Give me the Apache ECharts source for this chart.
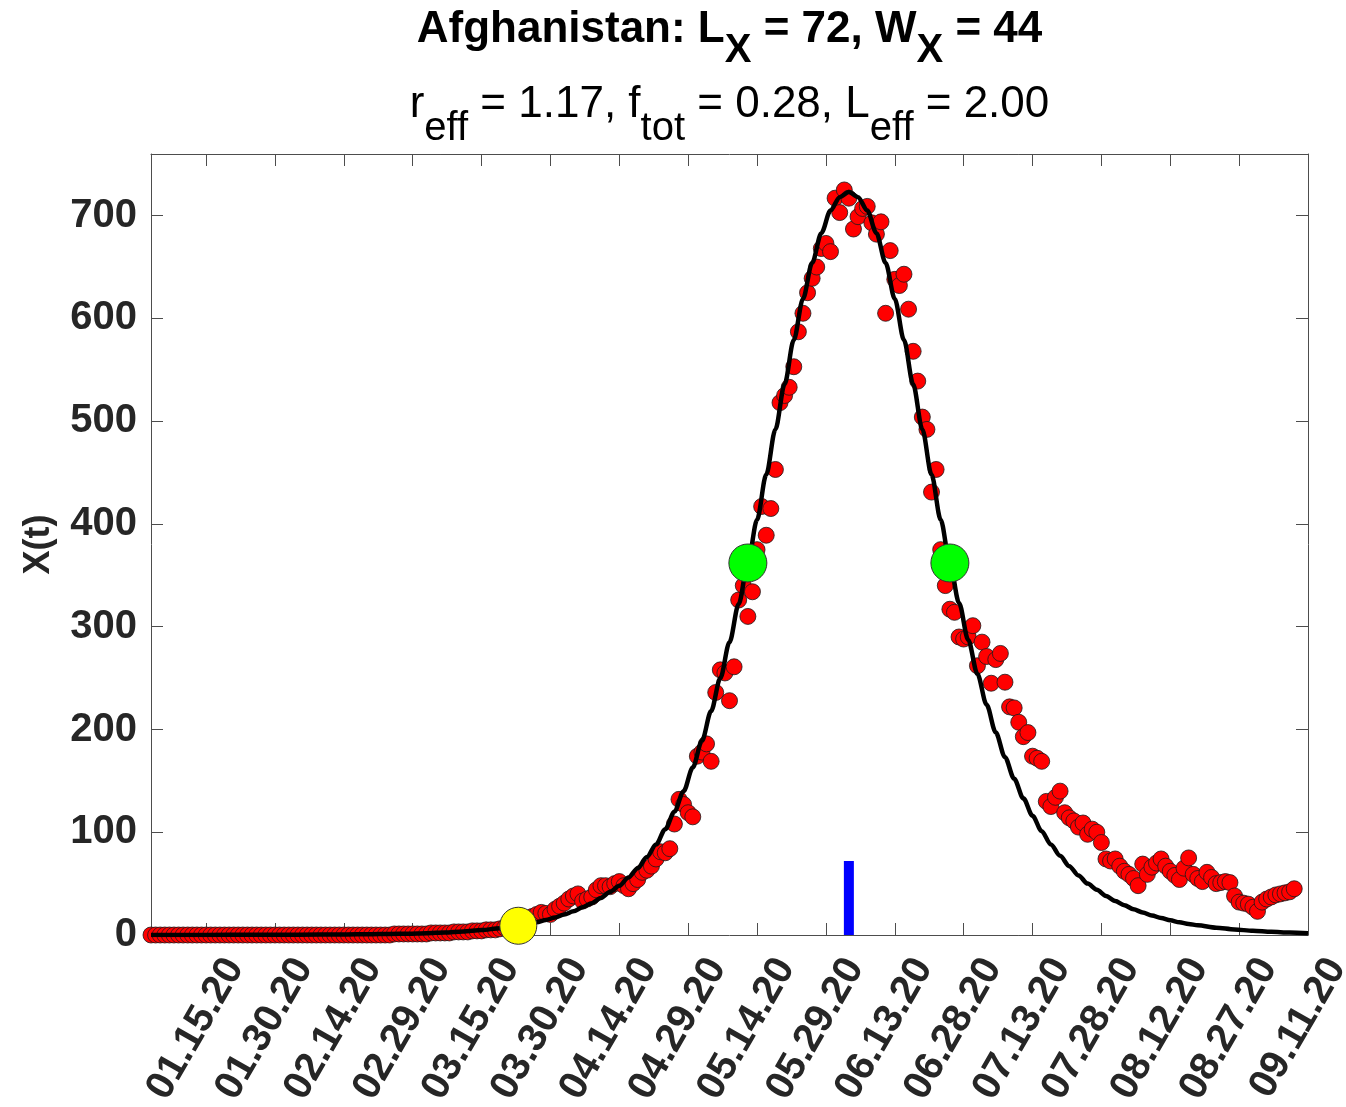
<!DOCTYPE html>
<html>
<head>
<meta charset="utf-8">
<script src="https://cdn.jsdelivr.net/npm/echarts@6/dist/echarts.min.js"></script>
<style>
html,body{margin:0;padding:0;background:#fff;}
#chart{width:1346px;height:1107px;}
</style>
</head>
<body>
<div id="chart"></div>
<script>
// ---------------- data ----------------
const countryName = 'Afghanistan';
const Lx = 72, Wx = 44;
const rEff = '1.17', fTot = '0.28', lEff = '2.00';

// first observation date and last axis date (MM.DD.YY)
const firstDate = '01.03.20';
const lastAxisDate = '09.11.20';

// observed X(t), one value per day starting at firstDate
const observedValues = [
  0,0,0,0,0,0,0,0,0,0, 0,0,0,0,0,0,0,0,0,0,
  0,0,0,0,0,0,0,0,0,0, 0,0,0,0,0,0,0,0,0,0,
  0,0,0,0,0,0,0,0,0,0, 0,0,0,
  1,1,1,1,1,1,1,1,2,2, 2,2,2,3,3,3,3,4,4,4,
  5,5,5,6,7,8,10,11,13,15, 18,
  20,22,21,20,25,28,31,35,38,40,
  33,35,37,44,48,48,47,50,52,48,
  45,50,54,61,63,67,74,81,80,84,
  108,132,127,119,115,174,178,186,169,236,
  258,255,228,261,326,340,310,334,375,417,
  389,415,453,518,525,533,553,587,605,625,
  639,650,668,673,665,717,703,725,717,687,
  699,707,709,693,682,694,605,666,638,632,
  643,609,568,539,504,492,431,453,375,340,
  317,314,290,288,290,301,262,285,271,245,
  268,274,246,222,221,207,193,197,174,172,
  169,130,125,134,140,119,114,111,105,109,
  98,103,100,90,74,72,74,67,62,59,
  55,48,69,59,66,70,74,67,62,58,
  54,65,75,59,55,52,61,56,50,51,
  52,51,38,32,31,30,27,23,32,35,
  37,39,40,41,42,45
];

// fitted curve (day of year 2020, value)
const fitDays = [2,14,24,34,44,50,54,58,62,66,70,74,78,80,82,84,86,88,90,92,94,96,98,100,
  102,104,106,108,110,112,114,116,118,120,122,124,126,128,130,132,134,136,138,140,142,144,146,148,150,
  152,154,156,158,160,162,164,166,168,170,172,174,176,178,180,182,184,186,188,190,192,194,196,198,200,
  202,204,206,208,210,212,214,216,218,220,222,224,226,228,230,234,238,242,246,250,254];
const fitValues = [0.05,0.1,0.2,0.3,0.5,0.8,1.0,1.3,1.8,2.5,3.5,4.8,6.6,7.7,9.0,10.6,12.4,14.6,17,20,23,27,31,36,
  42,48,56,65,76,88,103,120,140,163,189,218,250,285,322,362,404,448,492,536,579,619,654,683,705,
  718,723,718,705,683,654,619,579,536,492,448,404,362,323,287,254,224,197,173,152,133,116,101,88,77,
  67,58,50,44,38,33,29,25,22,19,16.5,14.3,12.4,10.8,9.4,7.1,5.4,4.1,3.1,2.4,1.8];

// half-maximum points (green), onset point (yellow), peak marker (blue)
const halfMaxDays = [132, 176];
const halfMaxValues = [362, 362];
const onsetDays = [82];
const onsetValues = [9];
const peakBarDay = 154;
const peakBarValues = [0, Lx];

// tick labels
const xTickLabels = ['01.15.20','01.30.20','02.14.20','02.29.20','03.15.20','03.30.20','04.14.20',
  '04.29.20','05.14.20','05.29.20','06.13.20','06.28.20','07.13.20','07.28.20','08.12.20','08.27.20','09.11.20'];
const yTickValues = [0,100,200,300,400,500,600,700];
const yMax = 760;

// ---------------- helpers ----------------
function dayOf(s){
  const p = s.split('.').map(Number);
  return Math.round((Date.UTC(2000+p[2], p[0]-1, p[1]) - Date.UTC(2020,0,1)) / 86400000);
}
const xMin = dayOf(firstDate);
const xMax = dayOf(lastAxisDate);
const xTickDays = xTickLabels.map(dayOf);
const labelByDay = {};
xTickDays.forEach((d,i)=>{ labelByDay[d] = xTickLabels[i]; });

const FONT = '"Liberation Sans", Arial, Helvetica, sans-serif';
const TXT = '#262626';
const AXC = '#4d4d4d';

const observedData = observedValues.map((v,i)=>[xMin+i, v]);
const fitData = fitDays.map((d,i)=>[d, fitValues[i]]);
const halfData = halfMaxDays.map((d,i)=>[d, halfMaxValues[i]]);
const onsetData = onsetDays.map((d,i)=>[d, onsetValues[i]]);
const barData = peakBarValues.map(v=>[peakBarDay, v]);

function mirrorX(pos, showLabel){
  return {
    type:'value', position:pos, min:xMin, max:xMax,
    axisLine:{show:true, onZero:false, lineStyle:{color:AXC, width:1}},
    axisTick:{show:true, inside:true, length:12, customValues:xTickDays, lineStyle:{color:AXC, width:1}},
    axisLabel: showLabel ? {
      show:true, customValues:xTickDays, rotate:60, margin:10,
      verticalAlign:'top', padding:[13,0,0,0],
      formatter:(v)=>labelByDay[Math.round(v)] || '',
      fontSize:40, fontWeight:'bold', fontFamily:FONT, color:TXT
    } : {show:false},
    splitLine:{show:false}
  };
}
function mirrorY(pos, showLabel){
  const ax = {
    type:'value', position:pos, min:0, max:yMax,
    axisLine:{show:true, onZero:false, lineStyle:{color:AXC, width:1}},
    axisTick:{show:true, inside:true, length:12, customValues:yTickValues, lineStyle:{color:AXC, width:1}},
    axisLabel: showLabel ? {
      show:true, customValues:yTickValues, margin:14,
      fontSize:40, fontWeight:'bold', fontFamily:FONT, color:TXT
    } : {show:false},
    splitLine:{show:false}
  };
  if (showLabel){
    ax.name = 'X(t)';
    ax.nameLocation = 'middle';
    ax.nameGap = 94;
    ax.nameTextStyle = {fontSize:36, fontWeight:'bold', fontFamily:FONT, color:TXT};
  }
  return ax;
}

const chart = echarts.init(document.getElementById('chart'), null, {renderer:'canvas'});
chart.setOption({
  animation:false,
  backgroundColor:'#ffffff',
  grid:{left:151, right:38, top:154, bottom:172, containLabel:false, outerBoundsMode:'none'},
  xAxis:[mirrorX('bottom', true), mirrorX('top', false)],
  yAxis:[mirrorY('left', true), mirrorY('right', false)],
  graphic:[
    {
      type:'text', x:729.5, y:8, z:100,
      style:{
        text:'{b|' + countryName + ': L}{bs|X}{b| = ' + Lx + ', W}{bs|X}{b| = ' + Wx + '}',
        align:'center', verticalAlign:'top', textAlign:'center', textVerticalAlign:'top',
        rich:{
          b:{fontSize:44, fontWeight:'bold', fontFamily:FONT, fill:'#000', lineHeight:44, verticalAlign:'top'},
          bs:{fontSize:40, fontWeight:'bold', fontFamily:FONT, fill:'#000', lineHeight:40, padding:[23,0,0,0], verticalAlign:'top'}
        }
      }
    },
    {
      type:'text', x:729.5, y:83, z:100,
      style:{
        text:'{n|r}{s|eff}{n| = ' + rEff + ', f}{s|tot}{n| = ' + fTot + ', L}{s|eff}{n| = ' + lEff + '}',
        align:'center', verticalAlign:'top', textAlign:'center', textVerticalAlign:'top',
        rich:{
          n:{fontSize:44, fontFamily:FONT, fill:'#000', lineHeight:44, verticalAlign:'top'},
          s:{fontSize:40, fontFamily:FONT, fill:'#000', lineHeight:40, padding:[26,0,0,0], verticalAlign:'top'}
        }
      }
    }
  ],
  series:[
    {
      type:'scatter', name:'observed', xAxisIndex:0, yAxisIndex:0, data:observedData,
      symbol:'circle', symbolSize:16, clip:false, z:2,
      itemStyle:{color:'#ff0000', borderColor:'#1a1a1a', borderWidth:0.8, opacity:1}
    },
    {
      type:'line', name:'fit', xAxisIndex:0, yAxisIndex:0, data:fitData,
      showSymbol:false, smooth:0.3, smoothMonotone:'x', clip:true, z:3,
      lineStyle:{color:'#000000', width:4.5}
    },
    {
      type:'line', name:'peak', xAxisIndex:0, yAxisIndex:0, data:barData,
      showSymbol:false, z:4, lineStyle:{color:'#0000ff', width:10, cap:'butt'}
    },
    {
      type:'scatter', name:'half', xAxisIndex:0, yAxisIndex:0, data:halfData,
      symbol:'circle', symbolSize:38, clip:false, z:5,
      itemStyle:{color:'#00ff00', borderColor:'#333333', borderWidth:1, opacity:1}
    },
    {
      type:'scatter', name:'onset', xAxisIndex:0, yAxisIndex:0, data:onsetData,
      symbol:'circle', symbolSize:37, clip:false, z:5,
      itemStyle:{color:'#ffff00', borderColor:'#333333', borderWidth:1, opacity:1}
    }
  ]
});
</script>
</body>
</html>
